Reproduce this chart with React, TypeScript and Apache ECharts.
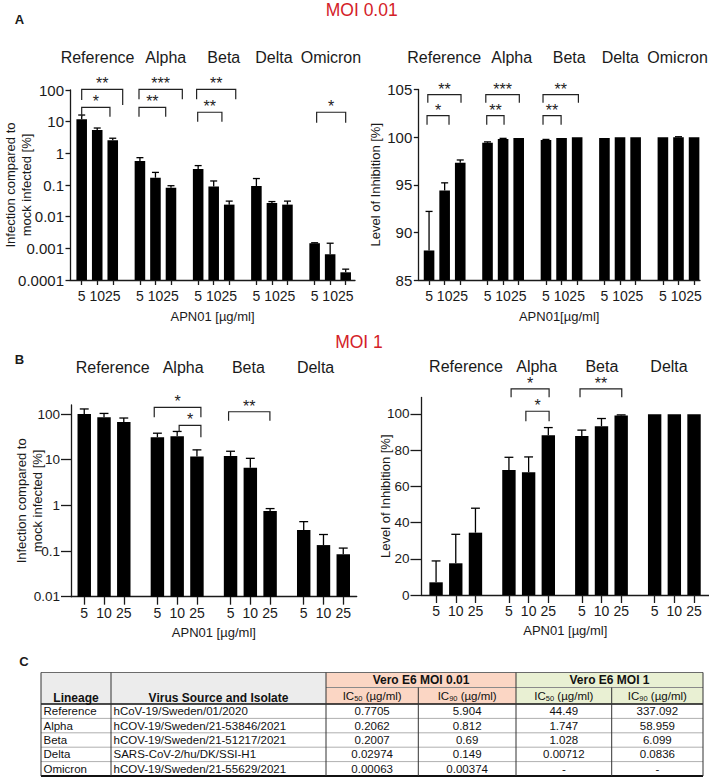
import React, { useEffect, useRef } from "react";
import * as echarts from "echarts";

// ---------------- data ----------------
const doses = ["5", "10", "25"];
const variantsMOI001 = ["Reference", "Alpha", "Beta", "Delta", "Omicron"];
const variantsMOI1 = ["Reference", "Alpha", "Beta", "Delta"];

// Panel A (MOI 0.01) infection compared to mock infected [%] (mean, upper error)
const infectionMOI001 = [11.9, 5.5, 2.6, 0.57, 0.17, 0.082, 0.32, 0.089, 0.024, 0.093, 0.027, 0.024, 0.00145, 0.00065, 0.000175];
const infectionMOI001Err = [16.2, 6.3, 3.0, 0.73, 0.25, 0.095, 0.41, 0.134, 0.031, 0.16, 0.03, 0.031, 0.0015, 0.00145, 0.00022];
// Panel A level of inhibition [%]
const inhibitionMOI001 = [88.1, 94.4, 97.3, 99.4, 99.8, 99.9, 99.7, 99.9, 99.98, 99.9, 99.98, 99.98, 99.98, 99.99, 99.98];
const inhibitionMOI001Err = [92.2, 95.2, 97.6, 99.5, 99.87, 99.93, 99.76, 99.94, 99.99, 99.94, 99.99, 99.99, 99.99, 100.04, 99.99];
// Panel B (MOI 1)
const infectionMOI1 = [100, 84.6, 66.7, 31, 32.7, 11.7, 12.1, 6.7, 0.757, 0.29, 0.135, 0.085];
const infectionMOI1Err = [129, 103, 81.7, 38, 41.5, 16.4, 15.3, 10.7, 0.85, 0.44, 0.23, 0.116];
const inhibitionMOI1 = [7.0, 17.5, 34.4, 69, 67.8, 88.2, 87.7, 93.2, 99.1, 99.7, 99.8, 99.8];
const inhibitionMOI1Err = [18.8, 33.5, 47.9, 76, 76.2, 92.4, 91, 97.4, 99.4, 99.9, 99.95, 99.95];

// tick labels
const logTicksA = ["0.0001", "0.001", "0.01", "0.1", "1", "10", "100"];
const linTicksA = ["85", "90", "95", "100", "105"];
const logTicksB = ["0.01", "0.1", "1", "10", "100"];
const linTicksB = ["0", "20", "40", "60", "80", "100"];

// significance brackets: [x from, x to, bracket level, left leg end, right leg end]
const sigA1 = [
  [0, 2.64, 105, 48, 33.6],
  [0, 1.82, 28.4, 14.4, 14.4],
  [3.69, 6.48, 105, 50.8, 50.8],
  [3.69, 5.41, 28.4, 14.4, 14.4],
  [7.4, 9.92, 105, 50.8, 50.8],
  [7.47, 9.03, 19.8, 10, 10],
  [15.13, 17.0, 19.8, 9.3, 9.3],
];
const sigA1Labels = ["**", "*", "***", "**", "**", "**", "*"];
const sigA2 = [
  [-0.08, 2.05, 104.47, 103.6, 103.6],
  [-0.13, 1.28, 102.25, 101.3, 101.3],
  [3.64, 5.79, 104.47, 103.6, 103.6],
  [3.7, 4.81, 102.25, 101.3, 101.3],
  [7.31, 9.58, 104.47, 103.6, 103.6],
  [7.31, 8.47, 102.25, 101.3, 101.3],
];
const sigA2Labels = ["**", "*", "***", "**", "**", "**"];
const sigB1 = [
  [3.54, 5.9, 140, 84.7, 84.7],
  [4.8, 5.9, 56.6, 41, 30.9],
  [7.3, 9.39, 112, 71.3, 71.3],
];
const sigB1Labels = ["*", "*", "**"];
const sigB2 = [
  [3.81, 5.74, 113.8, 109.1, 109.1],
  [4.56, 5.74, 101.4, 95.9, 95.9],
  [7.31, 9.43, 113.8, 109.1, 109.1],
];
const sigB2Labels = ["*", "*", "**"];

// table C
const tableLineages = ["Reference", "Alpha", "Beta", "Delta", "Omicron"];
const tableIsolates = [
  "hCoV-19/Sweden/01/2020",
  "hCOV-19/Sweden/21-53846/2021",
  "hCOV-19/Sweden/21-51217/2021",
  "SARS-CoV-2/hu/DK/SSI-H1",
  "hCOV-19/Sweden/21-55629/2021",
];
const ic50MOI001 = ["0.7705", "0.2062", "0.2007", "0.02974", "0.00063"];
const ic90MOI001 = ["5.904", "0.812", "0.69", "0.149", "0.00374"];
const ic50MOI1 = ["44.49", "1.747", "1.028", "0.00712", "-"];
const ic90MOI1 = ["337.092", "58.959", "6.099", "0.0836", "-"];

// ---------------- styling / layout ----------------
const FONT = "'Liberation Sans', Arial, Helvetica, sans-serif";
const INK = "#1a1a1a";
const RED = "#d42128";

function barPositions(nGroups: number, gap: number): number[] {
  const out: number[] = [];
  for (let g = 0; g < nGroups; g++) for (let i = 0; i < 3; i++) out.push(g * gap + i);
  return out;
}

const posA = barPositions(5, 3.75);
const posB = barPositions(4, 3.7);
const groupLabelPosA1 = [1.02, 5.41, 9.15, 12.38, 16.05];
const groupLabelPosA2 = [0.97, 5.3, 8.99, 12.27, 15.94];
const groupLabelPosB1 = [1.44, 5.0, 8.3, 11.7];
const groupLabelPosB2 = [1.52, 5.11, 8.42, 11.83];

const pickFormatter = (vals: number[], labels: string[]) => (v: number) => {
  let best = -1;
  let bd = Infinity;
  vals.forEach((p, i) => {
    const d = Math.abs(p - v);
    if (d < bd) {
      bd = d;
      best = i;
    }
  });
  return best >= 0 && bd < 1e-3 * Math.max(1, Math.abs(v)) ? labels[best] : "";
};
const doseLabels = (pos: number[]) => pos.map((_, i) => doses[i % 3]);
const logFormatter = (labels: string[]) => (v: number) => {
  const vals = labels.map((s) => parseFloat(s));
  const lv = Math.log10(v);
  let best = 0;
  vals.forEach((p, i) => {
    if (Math.abs(Math.log10(p) - lv) < Math.abs(Math.log10(vals[best]) - lv)) best = i;
  });
  return Math.abs(Math.log10(vals[best]) - lv) < 0.01 ? labels[best] : "";
};

const axisLineStyle = { color: INK, width: 1.3 };

function bottomX(gridIndex: number, min: number, max: number, pos: number[], tickLen: number, name: string, nameGap: number, margin: number) {
  return {
    type: "value",
    gridIndex,
    min,
    max,
    position: "bottom",
    axisLine: { show: true, onZero: false, lineStyle: axisLineStyle },
    axisTick: { show: true, customValues: pos, length: tickLen, lineStyle: axisLineStyle },
    axisLabel: {
      show: true,
      customValues: pos,
      formatter: pickFormatter(pos, doseLabels(pos)),
      fontSize: 14,
      color: INK,
      margin,
      fontFamily: FONT,
      showMinLabel: true,
      showMaxLabel: true,
      hideOverlap: false,
    },
    splitLine: { show: false },
    name,
    nameLocation: "middle",
    nameGap,
    nameMoveOverlap: false,
    nameTextStyle: { fontSize: 13, color: INK, fontFamily: FONT },
  };
}

function topX(gridIndex: number, min: number, max: number, labelPos: number[], names: string[], margin: number) {
  return {
    type: "value",
    gridIndex,
    min,
    max,
    position: "top",
    axisLine: { show: false, onZero: false },
    axisTick: { show: false },
    axisLabel: {
      show: true,
      customValues: labelPos,
      formatter: pickFormatter(labelPos, names),
      fontSize: 16,
      color: INK,
      margin,
      fontFamily: FONT,
      showMinLabel: true,
      showMaxLabel: true,
      hideOverlap: false,
    },
    splitLine: { show: false },
  };
}

function barsRender(yMin: number, widthU: number, capU: number) {
  return (params: any, api: any) => {
    const x = api.value(0);
    const v = api.value(1);
    const e = api.value(2);
    const base = api.coord([x, yMin]);
    const top = api.coord([x, v]);
    const err = api.coord([x, e]);
    const w = api.coord([x + widthU / 2, v])[0] - api.coord([x - widthU / 2, v])[0];
    const cw = api.coord([x + capU / 2, v])[0] - api.coord([x - capU / 2, v])[0];
    const children: any[] = [
      {
        type: "rect",
        shape: { x: top[0] - w / 2, y: top[1], width: w, height: base[1] - top[1] },
        style: { fill: "#000" },
      },
    ];
    if (err[1] < top[1] - 0.4) {
      children.push({
        type: "line",
        shape: { x1: top[0], y1: top[1], x2: top[0], y2: err[1] },
        style: { stroke: "#000", lineWidth: 1.3 },
      });
      children.push({
        type: "line",
        shape: { x1: top[0] - cw / 2, y1: err[1], x2: top[0] + cw / 2, y2: err[1] },
        style: { stroke: "#000", lineWidth: 1.3 },
      });
    }
    return { type: "group", children };
  };
}

function bracketRender(labels: string[]) {
  return (params: any, api: any) => {
    const x1 = api.value(0);
    const x2 = api.value(1);
    const yt = api.value(2);
    const yl = api.value(3);
    const yr = api.value(4);
    const tl = api.coord([x1, yt]);
    const tr = api.coord([x2, yt]);
    const bl = api.coord([x1, yl]);
    const br = api.coord([x2, yr]);
    return {
      type: "group",
      children: [
        {
          type: "polyline",
          shape: { points: [bl, tl, tr, br] },
          style: { stroke: "#222", lineWidth: 1.2, fill: "none" },
        },
        {
          type: "text",
          x: (tl[0] + tr[0]) / 2,
          y: tl[1] - 5.5,
          style: {
            text: labels[params.dataIndex],
            fontSize: 16,
            fontFamily: FONT,
            fill: "#222",
            align: "center",
            verticalAlign: "middle",
          },
        },
      ],
    };
  };
}

function barSeries(xAxisIndex: number, yAxisIndex: number, pos: number[], vals: number[], errs: number[], yMin: number) {
  return {
    type: "custom",
    xAxisIndex,
    yAxisIndex,
    coordinateSystem: "cartesian2d",
    clip: false,
    renderItem: barsRender(yMin, 0.68, 0.45),
    encode: { x: 0, y: [1, 2] },
    data: pos.map((p, i) => [p, vals[i], errs[i]]),
    z: 3,
  };
}

function sigSeries(xAxisIndex: number, yAxisIndex: number, rows: number[][], labels: string[]) {
  return {
    type: "custom",
    xAxisIndex,
    yAxisIndex,
    coordinateSystem: "cartesian2d",
    clip: false,
    renderItem: bracketRender(labels),
    encode: { x: [0, 1], y: [2, 3, 4] },
    data: rows,
    z: 4,
  };
}

function yAxisCfg(o: any) {
  return {
    gridIndex: o.gridIndex,
    type: o.type,
    min: o.min,
    max: o.max,
    logBase: 10,
    axisLine: { show: true, onZero: false, lineStyle: axisLineStyle },
    axisTick: { show: true, length: o.tickLen, customValues: o.ticks, lineStyle: axisLineStyle },
    axisLabel: {
      show: true,
      customValues: o.ticks,
      formatter: o.formatter,
      fontSize: o.fontSize,
      color: INK,
      margin: o.margin,
      fontFamily: FONT,
      showMinLabel: true,
      showMaxLabel: true,
    },
    splitLine: { show: false },
    name: o.name,
    nameLocation: "middle",
    nameRotate: 90,
    nameGap: o.nameGap,
    nameMoveOverlap: false,
    nameTextStyle: { fontSize: 13, lineHeight: 16, color: INK, fontFamily: FONT },
  };
}

function buildTable(): any[] {
  const els: any[] = [];
  const colX = [41, 111, 326, 418.3, 516, 611.7, 703];
  const hTop = 672.5;
  const hMid = 687.5;
  const hBot = 704;
  const rowH = 14.4;
  const tBot = hBot + rowH * tableLineages.length;
  const rect = (x: number, y: number, w: number, h: number, fill: string) => ({
    type: "rect",
    silent: true,
    shape: { x, y, width: w, height: h },
    style: { fill },
  });
  const line = (x1: number, y1: number, x2: number, y2: number, stroke: string, lw: number) => ({
    type: "line",
    silent: true,
    shape: { x1, y1, x2, y2 },
    style: { stroke, lineWidth: lw },
  });
  const text = (x: number, y: number, t: string, extra: any = {}) => ({
    type: "text",
    silent: true,
    x,
    y,
    style: {
      text: t,
      fontSize: 11.5,
      fontFamily: FONT,
      fill: "#111",
      align: "center",
      verticalAlign: "middle",
      ...extra,
    },
  });
  els.push(rect(colX[0], hTop, colX[2] - colX[0], hBot - hTop, "#ececec"));
  els.push(rect(colX[2], hTop, colX[4] - colX[2], hBot - hTop, "#fbd6c4"));
  els.push(rect(colX[4], hTop, colX[6] - colX[4], hBot - hTop, "#e9f0d3"));
  els.push(line(colX[0], hTop, colX[6], hTop, "#6b6b6b", 1));
  els.push(line(colX[2], hMid, colX[6], hMid, "#8a8a8a", 1));
  for (let r = 1; r < tableLineages.length; r++) {
    const y = hBot + rowH * r;
    els.push(line(colX[0], y, colX[6], y, "#9a9a9a", 0.8));
  }
  els.push(line(colX[0], hBot, colX[6], hBot, "#111", 1.6));
  els.push(line(colX[0], tBot, colX[6], tBot, "#111", 2));
  [0, 1, 2, 4, 6].forEach((i) => els.push(line(colX[i], hTop, colX[i], tBot, "#333", 1)));
  [3, 5].forEach((i) => els.push(line(colX[i], hMid, colX[i], tBot, "#333", 1)));
  const bold = { fontWeight: "bold", fontSize: 12 };
  els.push(text((colX[0] + colX[1]) / 2, 697.5, "Lineage", bold));
  els.push(text((colX[1] + colX[2]) / 2, 697.5, "Virus Source and Isolate", bold));
  els.push(text((colX[2] + colX[4]) / 2, 680, "Vero E6 MOI 0.01", bold));
  els.push(text((colX[4] + colX[6]) / 2, 680, "Vero E6 MOI 1", bold));
  const icHead = ["50", "90", "50", "90"];
  icHead.forEach((sub, k) => {
    els.push({
      type: "text",
      silent: true,
      x: (colX[2 + k] + colX[3 + k]) / 2,
      y: (hMid + hBot) / 2,
      style: {
        text: `{a|IC}{s|${sub}}{a| (µg/ml)}`,
        align: "center",
        verticalAlign: "middle",
        rich: {
          a: { fontSize: 11.5, fontFamily: FONT, fill: "#111", lineHeight: 14, verticalAlign: "middle" },
          s: { fontSize: 7.5, fontFamily: FONT, fill: "#111", lineHeight: 14, verticalAlign: "bottom" },
        },
      },
    });
  });
  tableLineages.forEach((lin, r) => {
    const y = hBot + rowH * (r + 0.5);
    els.push(text(colX[0] + 2.5, y, lin, { align: "left" }));
    els.push(text(colX[1] + 2.5, y, tableIsolates[r], { align: "left" }));
    els.push(text((colX[2] + colX[3]) / 2, y, ic50MOI001[r]));
    els.push(text((colX[3] + colX[4]) / 2, y, ic90MOI001[r]));
    els.push(text((colX[4] + colX[5]) / 2, y, ic50MOI1[r]));
    els.push(text((colX[5] + colX[6]) / 2, y, ic90MOI1[r]));
  });
  return els;
}

function buildOption(): any {
  const gText = (x: number, y: number, t: string, extra: any = {}) => ({
    type: "text",
    silent: true,
    x,
    y,
    style: { text: t, fontFamily: FONT, fill: INK, align: "center", verticalAlign: "middle", ...extra },
  });
  const graphics: any[] = [
    gText(361.7, 10, "MOI 0.01", { fontSize: 17.5, fill: RED }),
    gText(359, 341.7, "MOI 1", { fontSize: 17.5, fill: RED }),
    gText(19.5, 19, "A", { fontSize: 13, fontWeight: "bold" }),
    gText(19.5, 359, "B", { fontSize: 13, fontWeight: "bold" }),
    gText(24, 661, "C", { fontSize: 13, fontWeight: "bold" }),
    ...buildTable(),
  ];

  const logTickValsA = logTicksA.map((s) => parseFloat(s));
  const logTickValsB = logTicksB.map((s) => parseFloat(s));
  const linTickValsA = linTicksA.map((s) => parseFloat(s));
  const linTickValsB = linTicksB.map((s) => parseFloat(s));

  const xA1 = [-0.753, 17.6];
  const xA2 = [-0.69, 17.38];
  const xB1 = [-0.67, 13.78];
  const xB2 = [-0.74, 13.86];

  const gridBase = { outerBoundsMode: "none", containLabel: false };

  return {
    animation: false,
    backgroundColor: "#ffffff",
    textStyle: { fontFamily: FONT },
    grid: [
      { ...gridBase, left: 70, top: 90, width: 285, height: 190 },
      { ...gridBase, left: 418.3, top: 89.5, width: 281.7, height: 190.5 },
      { ...gridBase, left: 71, top: 405, width: 285.7, height: 191.7 },
      { ...gridBase, left: 421.5, top: 397.5, width: 287.5, height: 197.5 },
    ],
    xAxis: [
      bottomX(0, xA1[0], xA1[1], posA, 5, "APN01 [µg/ml]", 30, 9),
      topX(0, xA1[0], xA1[1], groupLabelPosA1, variantsMOI001, 24.5),
      bottomX(1, xA2[0], xA2[1], posA, 5, "APN01[µg/ml]", 30, 9),
      topX(1, xA2[0], xA2[1], groupLabelPosA2, variantsMOI001, 24),
      bottomX(2, xB1[0], xB1[1], posB, 8, "APN01 [µg/ml]", 29, 9),
      topX(2, xB1[0], xB1[1], groupLabelPosB1, variantsMOI1, 29.5),
      bottomX(3, xB2[0], xB2[1], posB, 8, "APN01 [µg/ml]", 29, 9),
      topX(3, xB2[0], xB2[1], groupLabelPosB2, variantsMOI1, 23.3),
    ],
    yAxis: [
      yAxisCfg({
        gridIndex: 0, type: "log", min: 0.0001, max: 100, tickLen: 4.5, ticks: logTickValsA,
        formatter: logFormatter(logTicksA), fontSize: 15, margin: 6,
        name: "Infection compared to\nmock infected [%]", nameGap: 36,
      }),
      yAxisCfg({
        gridIndex: 1, type: "value", min: 85, max: 105, tickLen: 4.5, ticks: linTickValsA,
        formatter: pickFormatter(linTickValsA, linTicksA), fontSize: 15, margin: 6,
        name: "Level of Inhibition [%]", nameGap: 35,
      }),
      yAxisCfg({
        gridIndex: 2, type: "log", min: 0.01, max: 157.5, tickLen: 10, ticks: logTickValsB,
        formatter: logFormatter(logTicksB), fontSize: 13.5, margin: 11,
        name: "Infection compared to\nmock infected [%]", nameGap: 26,
      }),
      yAxisCfg({
        gridIndex: 3, type: "value", min: 0, max: 109, tickLen: 11, ticks: linTickValsB,
        formatter: pickFormatter(linTickValsB, linTicksB), fontSize: 13.5, margin: 12,
        name: "Level of Inhibition [%]", nameGap: 28.5,
      }),
    ],
    series: [
      barSeries(0, 0, posA, infectionMOI001, infectionMOI001Err, 0.0001),
      sigSeries(0, 0, sigA1, sigA1Labels),
      barSeries(2, 1, posA, inhibitionMOI001, inhibitionMOI001Err, 85),
      sigSeries(2, 1, sigA2, sigA2Labels),
      barSeries(4, 2, posB, infectionMOI1, infectionMOI1Err, 0.01),
      sigSeries(4, 2, sigB1, sigB1Labels),
      barSeries(6, 3, posB, inhibitionMOI1, inhibitionMOI1Err, 0),
      sigSeries(6, 3, sigB2, sigB2Labels),
    ],
    graphic: graphics,
  };
}

export default function App() {
  const ref = useRef<HTMLDivElement>(null);
  useEffect(() => {
    if (!ref.current) return;
    const chart = echarts.init(ref.current, null, { renderer: "svg" });
    chart.setOption(buildOption());
    return () => chart.dispose();
  }, []);
  return (
    <div
      ref={ref}
      style={{ position: "absolute", left: 0, top: 0, width: 709, height: 777, background: "#fff" }}
    />
  );
}
